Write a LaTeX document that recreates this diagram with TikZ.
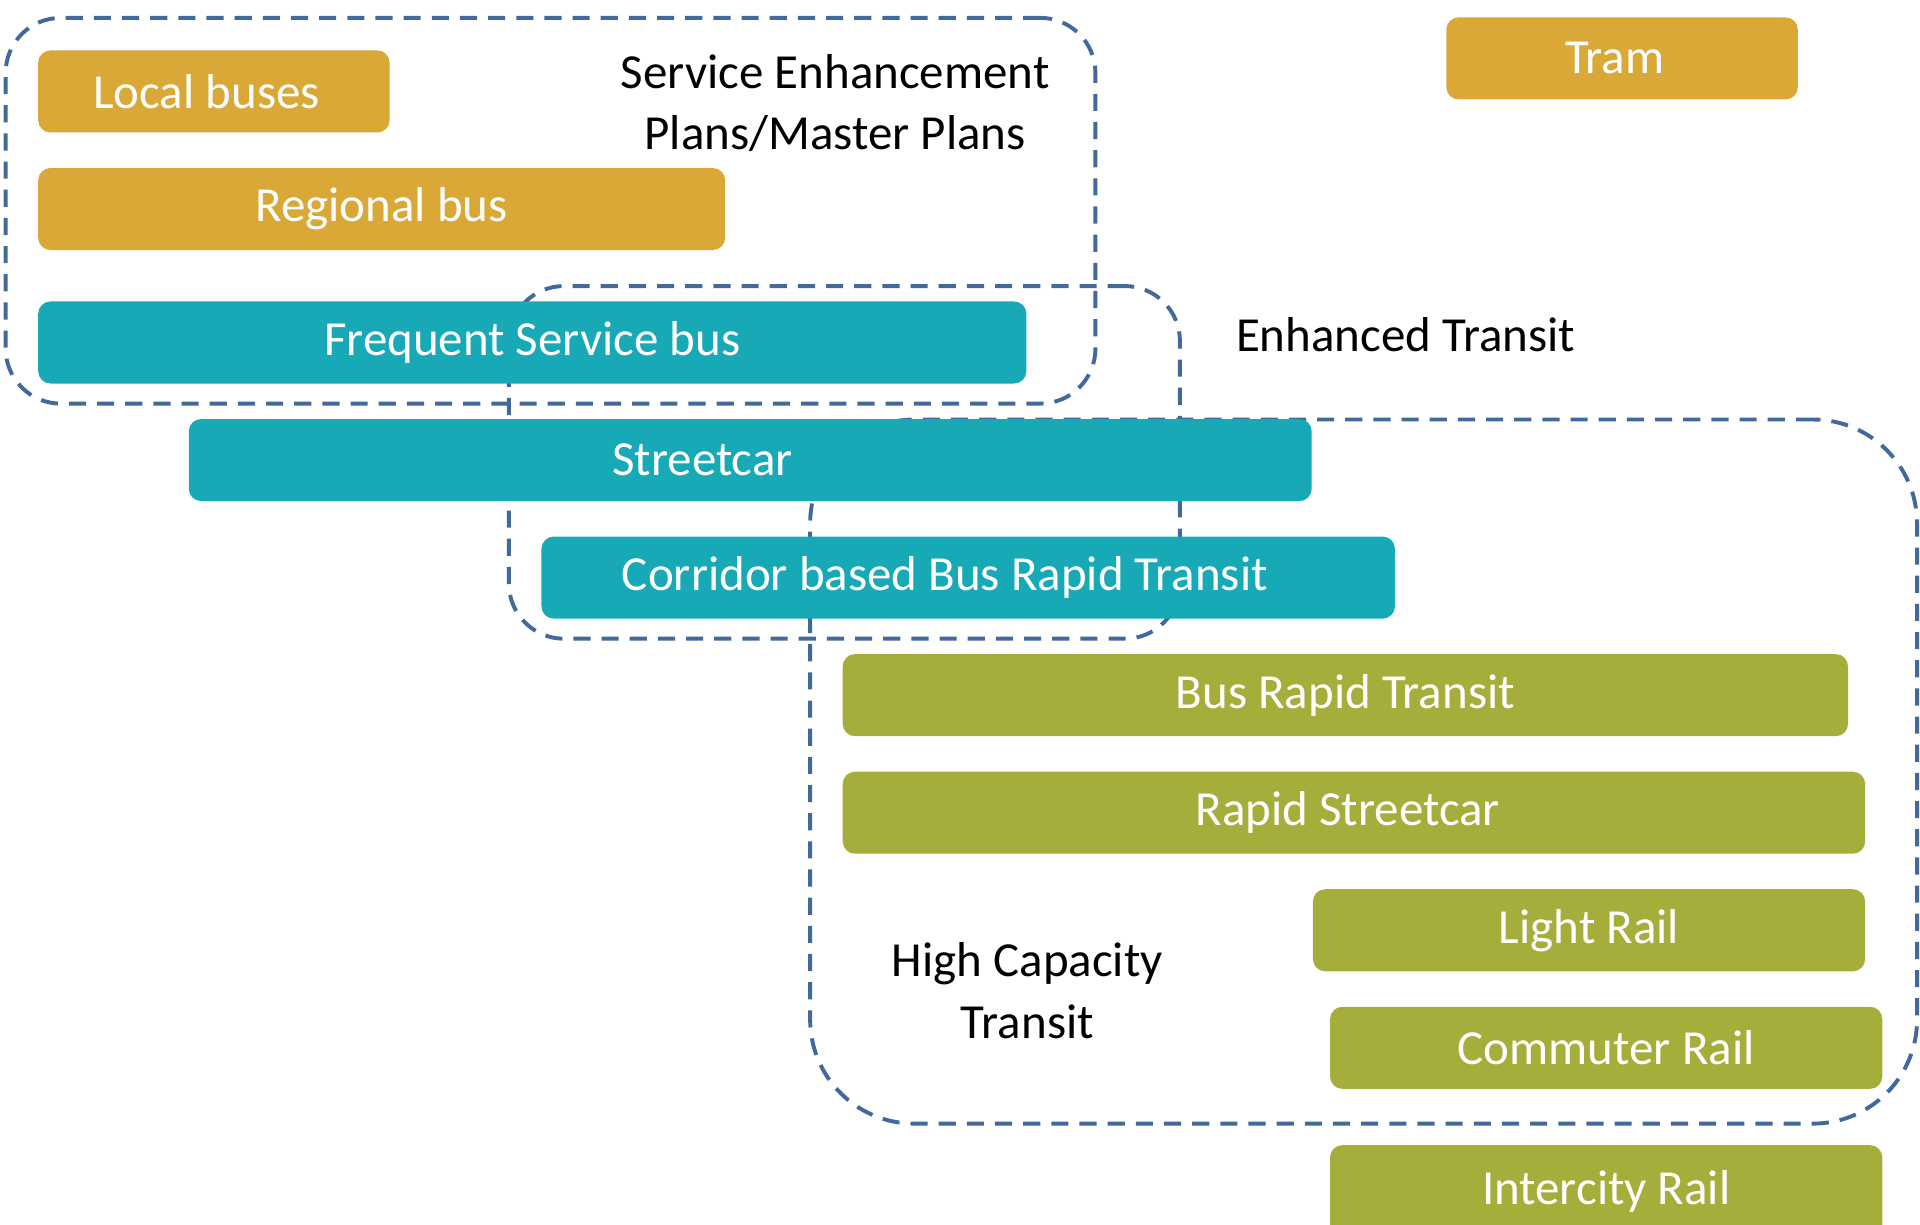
\documentclass[tikz,border=0pt]{standalone}
\usepackage{fontspec}
\setmainfont{Carlito}
\definecolor{cgold}{HTML}{D9A836}
\definecolor{cteal}{HTML}{17A9B6}
\definecolor{colive}{HTML}{A6AE3B}
\definecolor{cdash}{HTML}{41699A}
\begin{document}
\begin{tikzpicture}[x=1pt,y=-1pt,
  modebox/.style={rounded corners=10pt, text=white, font=\fontsize{40}{48}\selectfont,
    anchor=north west, inner sep=0pt, minimum height=67pt},
  goldbox/.style={modebox, fill=cgold},
  tealbox/.style={modebox, fill=cteal},
  olivebox/.style={modebox, fill=colive},
  groupframe/.style={draw=cdash, line width=3.2pt, dash pattern=on 14pt off 9pt,
    rounded corners=#1, anchor=north west, inner sep=0pt},
  grouplabel/.style={font=\fontsize{40}{50}\selectfont, align=center, text=black, inner sep=0pt}]
\useasboundingbox (0,0) rectangle (1568,999.6);
% group frames
\node[groupframe=45pt, minimum width=890pt, minimum height=315pt] (se) at (3,13) {};
\node[groupframe=45pt, minimum width=548pt, minimum height=288pt] (et) at (414,232) {};
\node[groupframe=85pt, minimum width=904pt, minimum height=575pt] (hc) at (660,341) {};
% mode boxes
\node[goldbox, minimum width=287pt] (local) at (31,41) {Local buses\hspace*{12pt}};
\node[goldbox, minimum width=561pt] (regional) at (31,137) {Regional bus};
\node[goldbox, minimum width=287pt] (tram) at (1181,14) {Tram\hspace*{12pt}};
\node[tealbox, minimum width=807pt] (freq) at (31,246) {Frequent Service bus};
\node[tealbox, minimum width=917pt] (streetcar) at (154,342) {Streetcar\hspace*{78pt}};
\node[tealbox, minimum width=697pt] (corridor) at (442,438) {Corridor based Bus Rapid Transit\hspace*{38pt}};
\node[olivebox, minimum width=821pt] (brt) at (688,534) {Bus Rapid Transit};
\node[olivebox, minimum width=835pt] (rapid) at (688,630) {Rapid Streetcar\hspace*{10pt}};
\node[olivebox, minimum width=451pt] (light) at (1072,726) {Light Rail};
\node[olivebox, minimum width=451pt] (commuter) at (1086,822) {Commuter Rail};
\node[olivebox, minimum width=451pt, minimum height=75pt] (intercity) at (1086,935) {\raisebox{6pt}{Intercity Rail}};
% group labels
\node[grouplabel] (selabel) at (682,84) {Service Enhancement\\Plans/Master Plans};
\node[grouplabel] (etlabel) at (1148,273) {Enhanced Transit};
\node[grouplabel] (hclabel) at (839,809) {High Capacity\\Transit};
\end{tikzpicture}
\end{document}
